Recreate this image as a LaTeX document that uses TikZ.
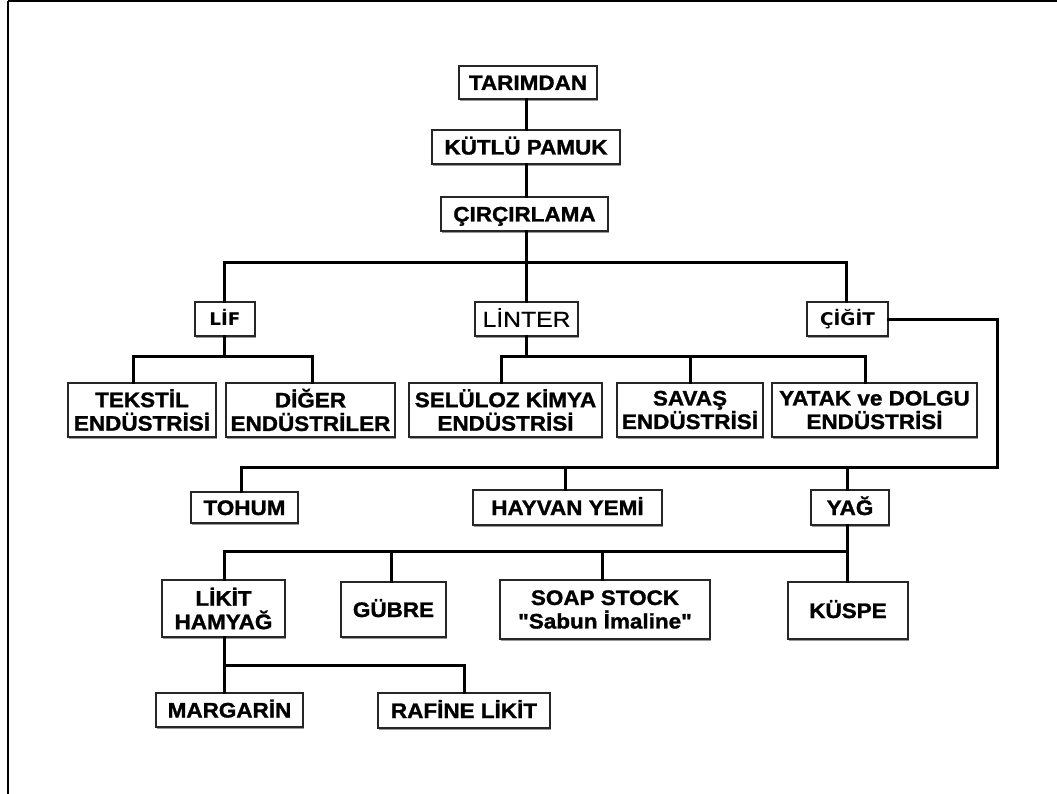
\documentclass[tikz,border=0pt]{standalone}
\usepackage{fontspec}
\usetikzlibrary{shadows}
\newfontfamily\mainf[FakeStretch=1.07, BoldFeatures={FakeBold=1.3}]{Liberation Sans}
\newfontfamily\linfont[FakeStretch=1.15, FakeBold=0.6]{Liberation Sans}
\newfontfamily\vfont[FakeStretch=1.05]{DejaVu Sans}
\begin{document}
\begin{tikzpicture}[x=1pt,y=-1pt,
  box/.style={draw=black!85, line width=1.3pt, fill=white, inner sep=0pt, align=center,
    font=\mainf\bfseries\fontsize{21}{23.5}\selectfont,
    general shadow={fill=black!40, shadow xshift=1.2pt, shadow yshift=-2.2pt}},
  one/.style={text height=15pt, text depth=0pt},
  conn/.style={line width=3pt, line cap=rect},
  frame/.style={line width=2.3pt}]
\useasboundingbox (0,0) rectangle (1057,794);
\draw[frame] (8,1) -- (1057,1);
\draw[frame] (8,1) -- (8,794);
% nodes
\newcommand\bx[7][]{\node[box, #1, minimum width={#4-#3}, minimum height={#6-#5}] (#2) at ({(#3+#4)/2},{(#5+#6)/2}) {#7};}
\bx[one]{tar}{459}{597}{66}{99}{TARIMDAN}
\bx[one]{kut}{432}{620}{130}{164}{KÜTLÜ PAMUK}
\bx[one]{cir}{441}{608}{197}{231}{ÇIRÇIRLAMA}
\bx[text height=13pt, text depth=0pt]{lif}{195}{255}{302}{336}{\vfont\bfseries\fontsize{17.5}{20}\selectfont LİF}
\bx[text height=15.5pt, text depth=0pt]{lin}{475}{578}{302}{336}{\linfont\mdseries\fontsize{21.5}{24}\selectfont LİNTER}
\bx[text height=13pt, text depth=0pt]{cig}{807}{888}{302}{336}{\vfont\bfseries\fontsize{17.5}{20}\selectfont ÇİĞİT}
\bx{tek}{68}{216}{383}{437}{TEKSTİL\\ENDÜSTRİSİ}
\bx{dig}{226}{395}{383}{437}{DİĞER\\ENDÜSTRİLER}
\bx{sel}{409}{602}{383}{437}{SELÜLOZ KİMYA\\ENDÜSTRİSİ}
\bx{sav}{617}{763}{383}{437}{SAVAŞ\\ENDÜSTRİSİ}
\bx{yat}{772}{977}{383}{437}{YATAK ve DOLGU\\ENDÜSTRİSİ}
\bx[one]{toh}{191}{298}{492}{523}{TOHUM}
\bx[one]{hay}{473}{662}{490}{525}{HAYVAN YEMİ}
\bx[one]{yag}{811}{889}{490}{525}{YAĞ}
\bx{lik}{162}{285}{580}{637}{LİKİT\\HAMYAĞ}
\bx[one]{gub}{341}{446}{582}{637}{GÜBRE}
\bx{soap}{500}{710}{580}{639}{SOAP STOCK\\"Sabun İmaline"}
\bx[one]{kus}{788}{908}{582}{639}{KÜSPE}
\bx[one]{mar}{156}{303}{693}{727}{MARGARİN}
\bx[one]{raf}{378}{550}{693}{728}{RAFİNE LİKİT}
% connectors
\begin{scope}[conn]
\draw (tar.south -| 526,0) -- (kut.north -| 526,0);
\draw (kut.south -| 526,0) -- (cir.north -| 526,0);
\draw (cir.south -| 526,0) -- (526,263) coordinate (b0);
\draw (lif.north -| 224,0) |- (b0) -| (cig.north -| 846,0);
\draw (b0) -- (lin.north -| 526,0);
\draw (lif.south -| 224,0) -- (224,356) coordinate (b1);
\draw (tek.north -| 133,0) |- (b1) -| (dig.north -| 312,0);
\draw (lin.south -| 526,0) -- (526,356) coordinate (b2);
\draw (sel.north -| 501,0) |- (b2) -| (yat.north -| 865,0);
\draw (sav.north -| 690,0) -- (690,356);
\draw (cig.east) -- (997,319) -- (997,467) coordinate (b3) -- (241,467) -- (toh.north -| 241,0);
\draw (hay.north -| 565,0) -- (565,467);
\draw (yag.north -| 847,0) -- (847,467);
\draw (yag.south -| 847,0) -- (847,551) coordinate (b4);
\draw (lik.north -| 224,0) |- (b4) -- (kus.north -| 847,0);
\draw (gub.north -| 391,0) -- (391,551);
\draw (soap.north -| 602,0) -- (602,551);
\draw (lik.south -| 224,0) -- (224,665) coordinate (b5) -- (mar.north -| 224,0);
\draw (b5) -| (raf.north -| 464,0);
\end{scope}
\end{tikzpicture}
\end{document}
